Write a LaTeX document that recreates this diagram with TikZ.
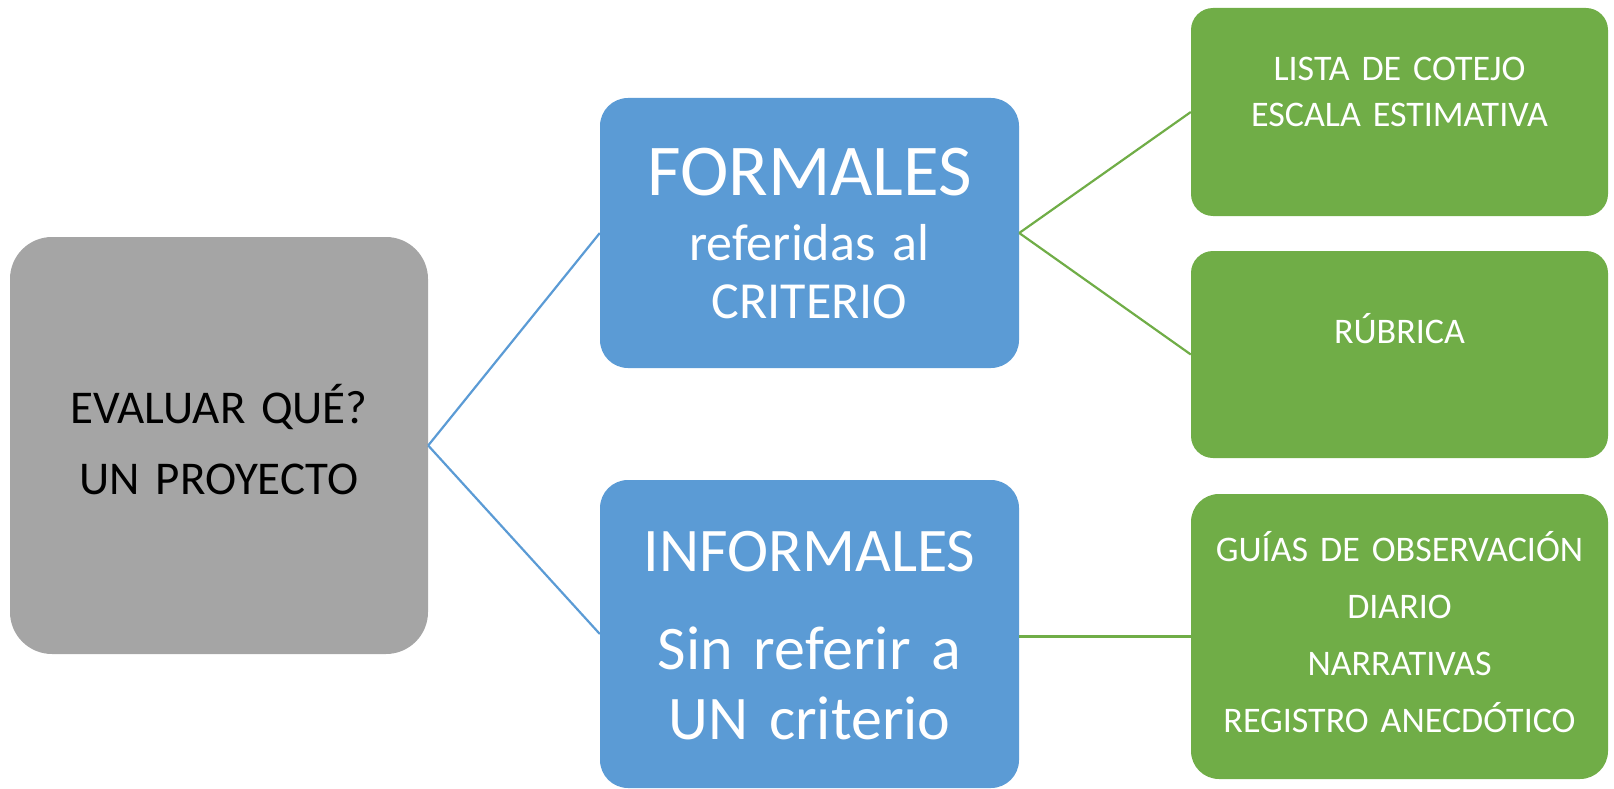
\documentclass[tikz,border=0pt]{standalone}
\usepackage{fontspec}
\setmainfont{Carlito}

\definecolor{boxgray}{HTML}{A5A5A5}
\definecolor{boxblue}{HTML}{5B9BD5}
\definecolor{boxgreen}{HTML}{70AD47}

\tikzset{
    mapbox/.style={rectangle, inner sep=0pt, align=center},
    graybox/.style={mapbox, fill=boxgray, text=black, rounded corners=42pt},
    bluebox/.style={mapbox, fill=boxblue, text=white, rounded corners=28pt},
    greenbox/.style={mapbox, fill=boxgreen, text=white, rounded corners=22pt,
        minimum width=417pt, text width=410pt, font=\fontsize{36}{46}\selectfont},
    bluelink/.style={draw=boxblue, line width=2.2pt},
    greenlink/.style={draw=boxgreen, line width=2.2pt}
}

\begin{document}
\begin{tikzpicture}[x=1pt, y=-1pt]
    \useasboundingbox (0,0) rectangle (1614,789);

    \node[graybox, minimum width=418pt, minimum height=417pt, text width=400pt,
          font=\fontsize{47}{71}\selectfont, text height=30pt, text depth=75pt]
        (proyecto) at (219,445.5) {EVALUAR QUÉ?\\UN PROYECTO};

    \node[bluebox, minimum width=419pt, minimum height=270pt, text width=410pt,
          font=\fontsize{52}{58}\selectfont, text height=47pt, text depth=123pt]
        (formales) at (809.5,233)
        {{\fontsize{73}{73}\selectfont FORMALES}\\[7pt]referidas al\\CRITERIO};
    \node[bluebox, minimum width=419pt, minimum height=308pt, text width=410pt,
          font=\fontsize{62}{70}\selectfont, text height=40pt, text depth=166pt]
        (informales) at (809.5,634)
        {INFORMALES\\[28pt]Sin referir a\\UN criterio};

    \node[greenbox, minimum height=208pt, text height=25pt, text depth=87pt]
        (cotejo) at (1399.5,112) {LISTA DE COTEJO\\ESCALA ESTIMATIVA};
    \node[greenbox, minimum height=207pt, text height=27pt, text depth=50pt]
        (rubrica) at (1399.5,354.5) {RÚBRICA};
    \node[greenbox, minimum height=285pt, rounded corners=28pt,
          font=\fontsize{36}{57}\selectfont, text height=24pt, text depth=175pt]
        (guias) at (1399.5,636.5)
        {GUÍAS DE OBSERVACIÓN\\DIARIO\\NARRATIVAS\\REGISTRO ANECDÓTICO};

    % ramas
    \draw[bluelink] (proyecto.east) -- (formales.west);
    \draw[bluelink] (proyecto.east) -- (informales.west);
    \draw[greenlink] (formales.east) -- (cotejo.west);
    \draw[greenlink] (formales.east) -- (rubrica.west);
    \draw[greenlink] (informales.east |- guias.west) -- (guias.west);
\end{tikzpicture}
\end{document}
